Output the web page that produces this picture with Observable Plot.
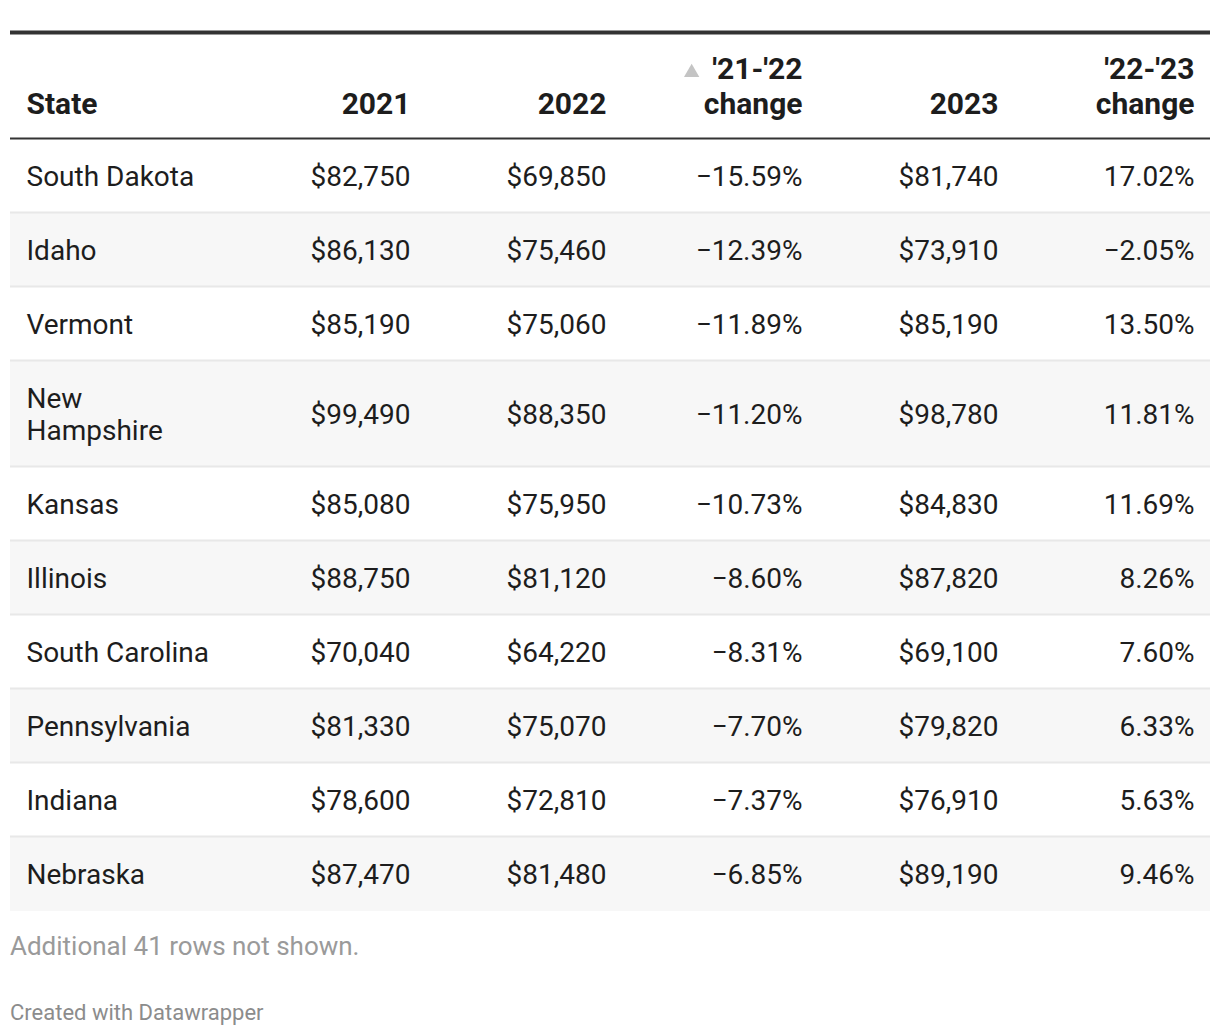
<!DOCTYPE html>
<html>
<head>
<meta charset="utf-8">
<script src="https://cdn.jsdelivr.net/npm/d3@7"></script>
<script src="https://cdn.jsdelivr.net/npm/@observablehq/plot@0.6"></script>
<style>
  html, body { margin: 0; padding: 0; background: #fff; }
  body { font-family: Roboto, "Noto Sans", sans-serif; }
  #wrap { position: relative; width: 1220px; height: 1036px; }
  #wrap svg { display: block; }
  .note { position: absolute; left: 10px; white-space: nowrap; line-height: 1; }
</style>
</head>
<body>
<div id="wrap"></div>
<script>
// ---------- data ----------
const states     = ["South Dakota", "Idaho", "Vermont", "New Hampshire", "Kansas", "Illinois", "South Carolina", "Pennsylvania", "Indiana", "Nebraska"];
const wage2021   = [82750, 86130, 85190, 99490, 85080, 88750, 70040, 81330, 78600, 87470];
const wage2022   = [69850, 75460, 75060, 88350, 75950, 81120, 64220, 75070, 72810, 81480];
const change2122 = [-15.59, -12.39, -11.89, -11.20, -10.73, -8.60, -8.31, -7.70, -7.37, -6.85];
const wage2023   = [81740, 73910, 85190, 98780, 84830, 87820, 69100, 79820, 76910, 89190];
const change2223 = [17.02, -2.05, 13.50, 11.81, 11.69, 8.26, 7.60, 6.33, 5.63, 9.46];
const columnKeys   = ["2021", "2022", "21-22", "2023", "22-23"];
const columnLabels = ["2021", "2022", "'21-'22\nchange", "2023", "'22-'23\nchange"];
const stateHeader  = "State";
const sortedColumn = "21-22";
const notes = ["Additional 41 rows not shown.", "Created with Datawrapper"];

// ---------- layout ----------
const W = 1220, H = 920;
const FS = 28, HFS = 30, LINE = 32;
const TEXT = "#1d1d1d";
const fmtMoney = d3.format("$,");
const fmtPct = v => d3.format(".2f")(v) + "%";

const canvas = document.createElement("canvas");
const ctx = canvas.getContext("2d");
function wrapText(text, font, maxW) {
  ctx.font = font;
  const words = text.split(" ");
  const lines = [];
  let cur = "";
  for (const w of words) {
    const t = cur ? cur + " " + w : w;
    if (cur && ctx.measureText(t).width > maxW) { lines.push(cur); cur = w; }
    else cur = t;
  }
  if (cur) lines.push(cur);
  return lines;
}

const topRule = 32, headerBase = 113, headerRule = 138, firstTop = 139;
const rows = [];
let cursor = firstTop;
states.forEach((s, i) => {
  const lines = wrapText(s, `${FS}px Roboto`, 186);
  const h = 42 + LINE * lines.length;
  rows.push({
    i, state: lines.join("\n"), rowTop: cursor, rowBottom: cursor + h, mid: cursor + h / 2 + 1,
    values: [fmtMoney(wage2021[i]), fmtMoney(wage2022[i]), fmtPct(change2122[i]), fmtMoney(wage2023[i]), fmtPct(change2223[i])]
  });
  cursor += h;
});
const cells = rows.flatMap(r => columnKeys.map((k, j) => ({key: k, label: r.values[j], y: r.mid})));

// triangle position relative to sorted header label
ctx.font = `bold ${HFS}px Roboto`;
const sortedLabelFirst = columnLabels[columnKeys.indexOf(sortedColumn)].split("\n")[0];
const triDx = -(ctx.measureText(sortedLabelFirst).width + 20.5);

const chart = Plot.plot({
  width: W,
  height: H,
  margin: 0,
  x: {type: "point", domain: columnKeys, range: [410, 1194], padding: 0, axis: null},
  y: {type: "linear", domain: [0, H], range: [0, H], axis: null},
  style: {fontFamily: "Roboto, sans-serif", fontSize: `${FS}px`, color: TEXT, background: "transparent", overflow: "visible"},
  marks: [
    Plot.rect(rows.filter(r => r.i % 2 === 1), {y1: "rowTop", y2: "rowBottom", fill: "#f7f7f7", insetLeft: 10, insetRight: 10}),
    Plot.ruleY(rows.slice(0, -1), {y: d => d.rowBottom - 1, stroke: "#e8e8e8", strokeWidth: 2, insetLeft: 10, insetRight: 10}),
    Plot.ruleY([topRule], {stroke: "#333", strokeWidth: 4, insetLeft: 10, insetRight: 10}),
    Plot.ruleY([headerRule], {stroke: "#333", strokeWidth: 2, insetLeft: 10, insetRight: 10}),
    Plot.text([stateHeader], {frameAnchor: "left", dx: 26, y: () => headerBase, text: d => d, textAnchor: "start", lineAnchor: "bottom", fontWeight: 700, fontSize: HFS, fill: TEXT}),
    Plot.text(columnKeys, {x: d => d, y: () => headerBase, text: (d, i) => columnLabels[i], textAnchor: "end", lineAnchor: "bottom", lineHeight: 35 / HFS, fontWeight: 700, fontSize: HFS, fill: TEXT}),
    Plot.dot([sortedColumn], {x: d => d, y: () => 72, symbol: "triangle", r: 5.7, fill: "#c4c4c4", stroke: null, dx: triDx}),
    Plot.text(rows, {frameAnchor: "left", dx: 26, dy: -2, y: "mid", text: "state", textAnchor: "start", lineAnchor: "middle", lineHeight: LINE / FS, fontSize: FS, fill: TEXT}),
    Plot.text(cells, {x: "key", y: "y", text: "label", textAnchor: "end", lineAnchor: "middle", fontSize: FS, fill: TEXT})
  ]
});

const wrapEl = document.getElementById("wrap");
wrapEl.appendChild(chart);

const n1 = document.createElement("div");
n1.className = "note";
n1.textContent = notes[0];
n1.style.cssText = "top:933px;font-size:26px;color:#9a9a9a;";
wrapEl.appendChild(n1);

const n2 = document.createElement("div");
n2.className = "note";
n2.textContent = notes[1];
n2.style.cssText = "top:1002px;font-size:22px;color:#8c8c8c;";
wrapEl.appendChild(n2);
</script>
</body>
</html>
